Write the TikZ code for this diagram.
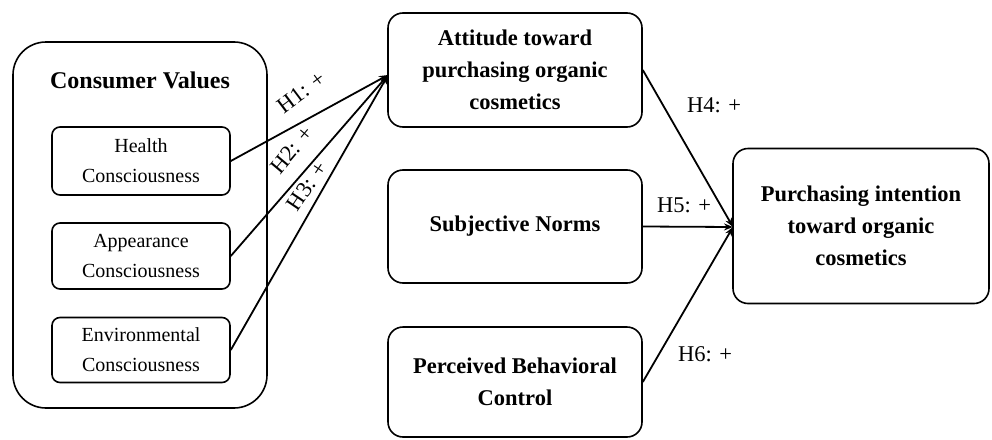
\documentclass[tikz,border=0pt]{standalone}
\usepackage{fontspec}
\setmainfont{Liberation Serif}
\usetikzlibrary{arrows.meta}
\tikzset{
  bigbox/.style={draw, line width=1.6pt, rounded corners=15pt, align=center,
    font=\fontsize{22.5}{32}\selectfont\bfseries},
  smallbox/.style={draw, line width=1.6pt, rounded corners=8pt, align=center,
    minimum width=178pt, font=\fontsize{20}{30}\selectfont},
  conn/.style={line width=1.8pt, -{Stealth[length=9pt,width=7pt]}},
  hlab/.style={font=\fontsize{22.5}{24}\selectfont, inner sep=0pt}
}
\begin{document}
\begin{tikzpicture}[x=1pt,y=-1pt]
\useasboundingbox (0,0) rectangle (992,439);
% consumer values container
\node[draw, line width=1.6pt, rounded corners=33pt, minimum width=254pt, minimum height=366pt] (cv) at (140,225) {};
\node[font=\fontsize{24}{28}\selectfont\bfseries] (cvt) at (140,80) {Consumer Values};
\node[smallbox, minimum height=68pt] (hc) at (141,161) {Health\\Consciousness};
\node[smallbox, minimum height=66pt] (ac) at (141,256) {Appearance\\Consciousness};
\node[smallbox, minimum height=65pt] (ec) at (141,350) {Environmental\\Consciousness};
% middle column
\node[bigbox, minimum width=254pt, minimum height=114pt] (att) at (515,70) {Attitude toward\\purchasing organic\\cosmetics};
\node[bigbox, minimum width=254pt, minimum height=113pt] (sn) at (515,226.5) {Subjective Norms};
\node[bigbox, minimum width=254pt, minimum height=110pt] (pbc) at (515,382) {Perceived Behavioral\\Control};
% right
\node[bigbox, minimum width=256pt, minimum height=155pt] (pi) at (861,226) {Purchasing intention\\toward organic\\cosmetics};
% entry points
\coordinate (attin) at (388,75);
\coordinate (piin) at (733,227);
% connectors
\draw[conn] (hc.east) -- (attin);
\draw[conn] (ac.east) -- (attin);
\draw[conn] (ec.east) -- (attin);
\draw[conn] (att.east) -- (piin);
\draw[conn] (sn.east) -- (piin);
\draw[conn] (pbc.east) -- (piin);
% labels
\node[hlab, rotate=37] (h1) at (301,92) {H1: +};
\node[hlab, rotate=50] (h2) at (292,150) {H2: +};
\node[hlab, rotate=56] (h3) at (307,186) {H3: +};
\node[hlab] (h4) at (714,105) {H4: +};
\node[hlab] (h5) at (684,205) {H5: +};
\node[hlab] (h6) at (705,354) {H6: +};
\end{tikzpicture}
\end{document}
